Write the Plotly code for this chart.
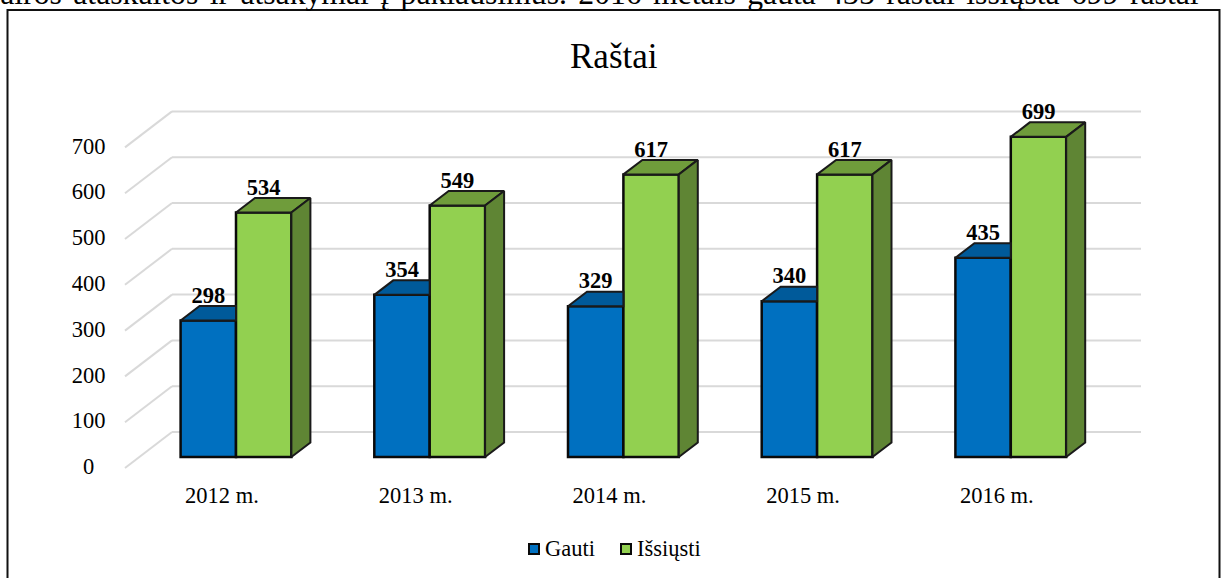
import plotly.graph_objects as go

categories = ["2012 m.", "2013 m.", "2014 m.", "2015 m.", "2016 m."]
gauti = [298, 354, 329, 340, 435]
issiusti = [534, 549, 617, 617, 699]
y_ticks = [0, 100, 200, 300, 400, 500, 600, 700]
title = "Raštai"
series_names = ["Gauti", "Išsiųsti"]
page_text = "airos ataskaitos ir atsakymai į paklausimus. 2016 metais gauta 435 raštai išsiųsta 699 raštai"

W, H = 1224, 578
X0, DX = 236.0, 193.7        # pixel of category 0, pixels per category
Y0, DY = 457.0, 0.458        # pixel of value 0, pixels per unit
FONT = "Liberation Serif"
BLUE, BLUE_TOP = "#0070c0", "#005a9a"
GREEN, GREEN_TOP, GREEN_SIDE = "#92d050", "#6f9c3b", "#5f8534"
GRID = "#d9d9d9"

def ux(px): return (px - X0) / DX
def uy(px): return (Y0 - px) / DY

BW = 55.4 / DX               # bar width in category units
DEPTH_X = 19 / DX            # bar depth
DEPTH_Y = 14.5 / DY
idx = list(range(len(categories)))

# Back-wall / floor gridlines, under the bars
shapes = []
for v in y_ticks:
    back = v + 25 / DY
    front = v - 11 / DY
    shapes.append(dict(type="line", xref="x", yref="y", layer="below",
                       x0=ux(172), y0=back, x1=ux(1141), y1=back,
                       line=dict(color=GRID, width=2)))
    shapes.append(dict(type="line", xref="x", yref="y", layer="below",
                       x0=ux(125), y0=front, x1=ux(172), y1=back,
                       line=dict(color=GRID, width=2)))
# Frame of the pasted chart
shapes.append(dict(type="rect", xref="paper", yref="paper", layer="below",
                   x0=7.5 / W, x1=1219.5 / W, y0=-0.02, y1=1 - 10 / H,
                   line=dict(color="#111111", width=2), fillcolor="white"))

fig = go.Figure()

fig.add_bar(x=[i - BW / 2 for i in idx], y=gauti, width=BW, name=series_names[0],
            marker=dict(color=BLUE, line=dict(color="#0a0a0a", width=2.5)), showlegend=False)
fig.add_bar(x=[i + BW / 2 for i in idx], y=issiusti, width=BW, name=series_names[1],
            marker=dict(color=GREEN, line=dict(color="#0a0a0a", width=2.5)), showlegend=False)

def poly(xs, ys, fill):
    fig.add_scatter(x=xs, y=ys, mode="lines", fill="toself", fillcolor=fill,
                    line=dict(color="#1a1a1a", width=2), showlegend=False, hoverinfo="skip")

for i, g, s in zip(idx, gauti, issiusti):
    # Gauti top face, cut where the taller neighbour hides it
    poly([i - BW, i, i, i - BW + DEPTH_X, i - BW],
         [g, g, g + DEPTH_Y, g + DEPTH_Y, g], BLUE_TOP)
    # Išsiųsti top face
    poly([i, i + BW, i + BW + DEPTH_X, i + DEPTH_X, i],
         [s, s, s + DEPTH_Y, s + DEPTH_Y, s], GREEN_TOP)
    # Išsiųsti side face
    poly([i + BW, i + BW + DEPTH_X, i + BW + DEPTH_X, i + BW, i + BW],
         [0, DEPTH_Y, s + DEPTH_Y, s, 0], GREEN_SIDE)

label_font = dict(family=FONT, size=22.5, color="black")
# Data labels
lift = 23.5 / DY
fig.add_scatter(x=[i - BW / 2 for i in idx] + [i + BW / 2 for i in idx],
                y=[v + lift for v in gauti] + [v + lift for v in issiusti],
                mode="text", text=[f"<b>{v}</b>" for v in gauti + issiusti],
                textposition="middle center", textfont=label_font,
                showlegend=False, hoverinfo="skip")
# Value axis labels
fig.add_scatter(x=[ux(88.5)] * len(y_ticks), y=[v + uy(468.5) for v in y_ticks],
                mode="text", text=[str(v) for v in y_ticks],
                textposition="middle center", textfont=label_font,
                showlegend=False, hoverinfo="skip")
# Category labels
fig.add_scatter(x=[i + ux(222) for i in idx], y=[uy(497)] * len(idx),
                mode="text", text=categories, textposition="middle center",
                textfont=label_font, showlegend=False, hoverinfo="skip")
# Legend
fig.add_scatter(x=[ux(534), ux(626)], y=[uy(549)] * 2, mode="markers",
                marker=dict(symbol="square", size=10, color=[BLUE, GREEN],
                            line=dict(color="#0a0a0a", width=2)),
                showlegend=False, hoverinfo="skip")
fig.add_scatter(x=[ux(545), ux(637)], y=[uy(550)] * 2, mode="text", text=series_names,
                textposition="middle right", textfont=label_font,
                showlegend=False, hoverinfo="skip")

annotations = [
    dict(text=title, x=ux(613.5), y=uy(56), xref="x", yref="y", showarrow=False,
         xanchor="center", yanchor="middle", font=dict(family=FONT, size=35, color="black")),
    dict(text=page_text, x=599.5 / W, y=1 - 12.5 / H, xref="paper", yref="paper", showarrow=False,
         xanchor="center", yanchor="bottom", borderpad=0, font=dict(family=FONT, size=31.7, color="black")),
]

fig.update_layout(
    width=W, height=H, margin=dict(l=0, r=0, t=0, b=0),
    paper_bgcolor="white", plot_bgcolor="rgba(0,0,0,0)",
    barmode="overlay", showlegend=False, shapes=shapes, annotations=annotations,
    xaxis=dict(visible=False, range=[ux(0), ux(W)], fixedrange=True),
    yaxis=dict(visible=False, range=[uy(H), uy(0)], fixedrange=True),
)
justify = """
document.body.style.margin = '0';
document.querySelectorAll('.annotation-text').forEach(function (t) {
  if (t.textContent.indexOf('airos') === 0) { t.style.wordSpacing = '3.5px'; }
});
"""
fig.write_html("out.html", config=dict(displayModeBar=False), post_script=justify)
